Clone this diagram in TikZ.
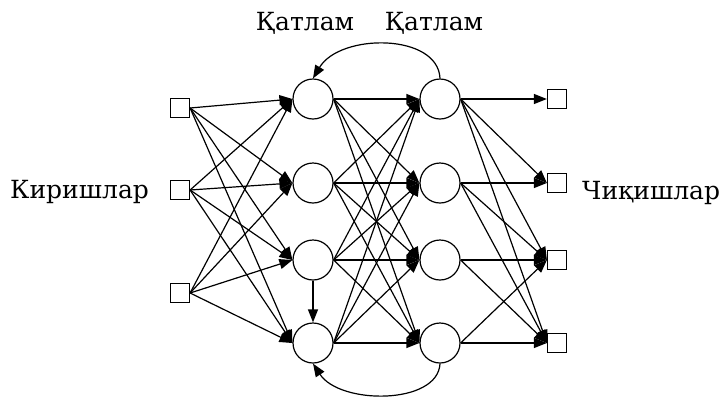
\documentclass[tikz,border=0pt]{standalone}
\usepackage{fontspec}
\setmainfont{DejaVu Serif}
\usetikzlibrary{arrows.meta}
\begin{document}
\begin{tikzpicture}[x=1pt,y=-1pt,
  sq/.style={draw,line width=1.2pt,minimum size=19pt,inner sep=0pt},
  neuron/.style={draw,line width=1.2pt,circle,minimum size=40pt,inner sep=0pt},
  lbl/.style={font=\fontsize{25}{30}\selectfont,inner sep=0pt,anchor=base},
  con/.style={line width=1.2pt,-{Triangle[length=13pt,width=10pt]}}]
\useasboundingbox (0,0) rectangle (719,397);
% inputs
\node[sq] (i1) at (180,108) {};
\node[sq] (i2) at (180,190) {};
\node[sq] (i3) at (180,293) {};
% hidden layers
\foreach \k/\y in {1/99,2/183,3/260,4/343}{
  \node[neuron] (a\k) at (313,\y) {};
  \node[neuron] (b\k) at (440,\y) {};
  \node[sq] (o\k) at (557,\y) {};
}
% labels
\node[lbl] (t1) at (305,30) {Қатлам};
\node[lbl] (t2) at (434,30) {Қатлам};
\node[lbl,anchor=base west] (tin) at (10,198) {Киришлар};
\node[lbl,anchor=base west] (tout) at (582,199) {Чиқишлар};
% inputs -> hidden 1
\foreach \i in {1,2,3}{
  \foreach \k in {1,2,3,4}{
    \draw[con] (i\i.east) -- (a\k.west);
  }
}
% hidden 1 -> hidden 2
\foreach \i in {1,2,3,4}{
  \foreach \k in {1,2,3,4}{
    \draw[con] (a\i.east) -- (b\k.west);
  }
}
% hidden 2 -> outputs
\foreach \i/\k in {1/1,1/2,1/3,1/4,2/2,2/3,2/4,3/3,3/4,4/3,4/4}{
  \draw[con] (b\i.east) -- (o\k.west);
}
% recurrent connections
\draw[con] (b1.north) .. controls (438,33) and (340,33) .. (a1.north);
\draw[con] (a3.south) -- (a4.north);
\draw[con] (b4.south) .. controls (438,405) and (340,405) .. (a4.south);
\end{tikzpicture}
\end{document}
